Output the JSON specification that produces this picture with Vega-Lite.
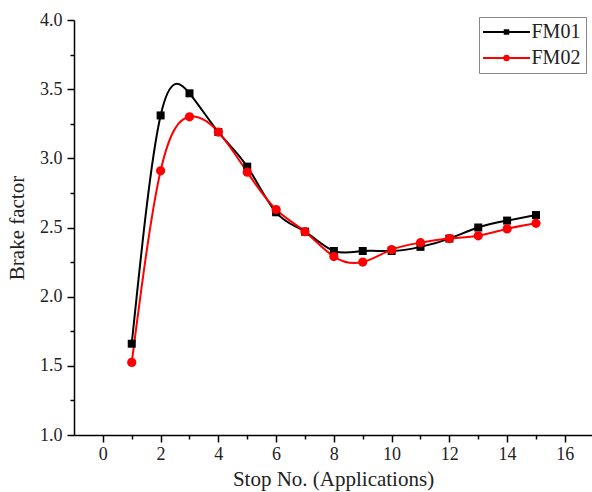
{
  "$schema": "https://vega.github.io/schema/vega-lite/v6.json",
  "autosize": {"type": "none"},
  "padding": {"left": 74, "top": 20, "right": 0, "bottom": 57},
  "width": 518,
  "height": 415,
  "background": "white",
  "config": {
    "view": {"stroke": null},
    "font": "Times New Roman, Liberation Serif, serif",
    "axis": {
      "domainColor": "black", "domainWidth": 1.5, "tickColor": "black", "tickWidth": 1.5,
      "labelColor": "#222", "labelFont": "Times New Roman, Liberation Serif, serif", "labelFontSize": 18,
      "titleFont": "Times New Roman, Liberation Serif, serif", "titleFontSize": 21, "titleFontWeight": "normal", "titleColor": "#222",
      "grid": false, "labelOverlap": false
    },
    "legend": {
      "symbolOpacity": 1, "labelFont": "Times New Roman, Liberation Serif, serif", "labelFontSize": 20, "labelColor": "#222"
    }
  },
  "datasets": {
    "d": [
      {"stop": 1, "series": "FM01", "bf": 1.66},
      {"stop": 2, "series": "FM01", "bf": 3.31},
      {"stop": 3, "series": "FM01", "bf": 3.47},
      {"stop": 4, "series": "FM01", "bf": 3.19},
      {"stop": 5, "series": "FM01", "bf": 2.94},
      {"stop": 6, "series": "FM01", "bf": 2.61},
      {"stop": 7, "series": "FM01", "bf": 2.47},
      {"stop": 8, "series": "FM01", "bf": 2.33},
      {"stop": 9, "series": "FM01", "bf": 2.33},
      {"stop": 10, "series": "FM01", "bf": 2.33},
      {"stop": 11, "series": "FM01", "bf": 2.36},
      {"stop": 12, "series": "FM01", "bf": 2.42},
      {"stop": 13, "series": "FM01", "bf": 2.50},
      {"stop": 14, "series": "FM01", "bf": 2.55},
      {"stop": 15, "series": "FM01", "bf": 2.59},
      {"stop": 1, "series": "FM02", "bf": 1.525},
      {"stop": 2, "series": "FM02", "bf": 2.91},
      {"stop": 3, "series": "FM02", "bf": 3.30},
      {"stop": 4, "series": "FM02", "bf": 3.19},
      {"stop": 5, "series": "FM02", "bf": 2.90},
      {"stop": 6, "series": "FM02", "bf": 2.63},
      {"stop": 7, "series": "FM02", "bf": 2.47},
      {"stop": 8, "series": "FM02", "bf": 2.29},
      {"stop": 9, "series": "FM02", "bf": 2.25},
      {"stop": 10, "series": "FM02", "bf": 2.34},
      {"stop": 11, "series": "FM02", "bf": 2.39},
      {"stop": 12, "series": "FM02", "bf": 2.42},
      {"stop": 13, "series": "FM02", "bf": 2.44},
      {"stop": 14, "series": "FM02", "bf": 2.49},
      {"stop": 15, "series": "FM02", "bf": 2.53}
    ]
  },
  "data": {"name": "d"},
  "encoding": {
    "x": {
      "field": "stop", "type": "quantitative",
      "scale": {"domain": [-1, 16.94], "nice": false, "zero": false},
      "axis": {
        "title": "Stop No. (Applications)",
        "values": [0, 1, 2, 3, 4, 5, 6, 7, 8, 9, 10, 11, 12, 13, 14, 15, 16],
        "labelExpr": "datum.value % 2 === 0 ? datum.label : ''",
        "tickSize": {"condition": {"test": "datum.value % 2 === 0", "value": 7}, "value": 4},
        "labelPadding": 3,
        "titlePadding": 5
      }
    },
    "y": {
      "field": "bf", "type": "quantitative",
      "scale": {"domain": [1, 4], "nice": false, "zero": false},
      "axis": {
        "title": "Brake factor",
        "values": [1, 1.25, 1.5, 1.75, 2, 2.25, 2.5, 2.75, 3, 3.25, 3.5, 3.75, 4],
        "format": ".1f",
        "labelExpr": "abs(datum.value*2 - round(datum.value*2)) < 0.001 ? datum.label : ''",
        "tickSize": {"condition": {"test": "abs(datum.value*2 - round(datum.value*2)) < 0.001", "value": 7}, "value": 4},
        "labelPadding": 5,
        "titlePadding": 12
      }
    }
  },
  "layer": [
    {
      "transform": [{"filter": "datum.series === 'FM01'"}],
      "mark": {"type": "line", "interpolate": "natural", "strokeWidth": 2, "color": "black"}
    },
    {
      "transform": [{"filter": "datum.series === 'FM02'"}],
      "mark": {"type": "line", "interpolate": "natural", "strokeWidth": 2, "color": "#ff0000"}
    },
    {
      "transform": [{"filter": "datum.series === 'FM01'"}],
      "mark": {"type": "point", "shape": "square", "filled": true, "color": "black", "size": 64, "opacity": 1}
    },
    {
      "transform": [{"filter": "datum.series === 'FM02'"}],
      "mark": {"type": "point", "shape": "circle", "filled": true, "color": "#ff0000", "size": 85, "opacity": 1}
    },
    {
      "mark": {"type": "point", "filled": true, "opacity": 0, "strokeWidth": 2, "size": 100},
      "encoding": {
        "fill": {"field": "series", "type": "nominal", "scale": {"domain": ["FM01", "FM02"], "range": ["black", "#ff0000"]}},
        "stroke": {"field": "series", "type": "nominal", "scale": {"domain": ["FM01", "FM02"], "range": ["black", "#ff0000"]}},
        "shape": {
          "field": "series", "type": "nominal",
          "scale": {"domain": ["FM01", "FM02"], "range": [
            "M-4.7,0L4.7,0M-0.35,-0.35L0.35,-0.35L0.35,0.35L-0.35,0.35Z",
            "M-4.7,0H4.7M-0.45,0A0.45,0.45 0 1,1 0.45,0A0.45,0.45 0 1,1 -0.45,0Z"
          ]},
          "legend": {"title": null, "orient": "none", "legendX": 405, "legendY": -3, "symbolOffset": 12.5, "labelOffset": 15, "padding": 5, "rowPadding": 6, "strokeColor": "#888", "fillColor": "white", "symbolOpacity": 1, "symbolStrokeWidth": 2}
        }
      }
    }
  ]
}
